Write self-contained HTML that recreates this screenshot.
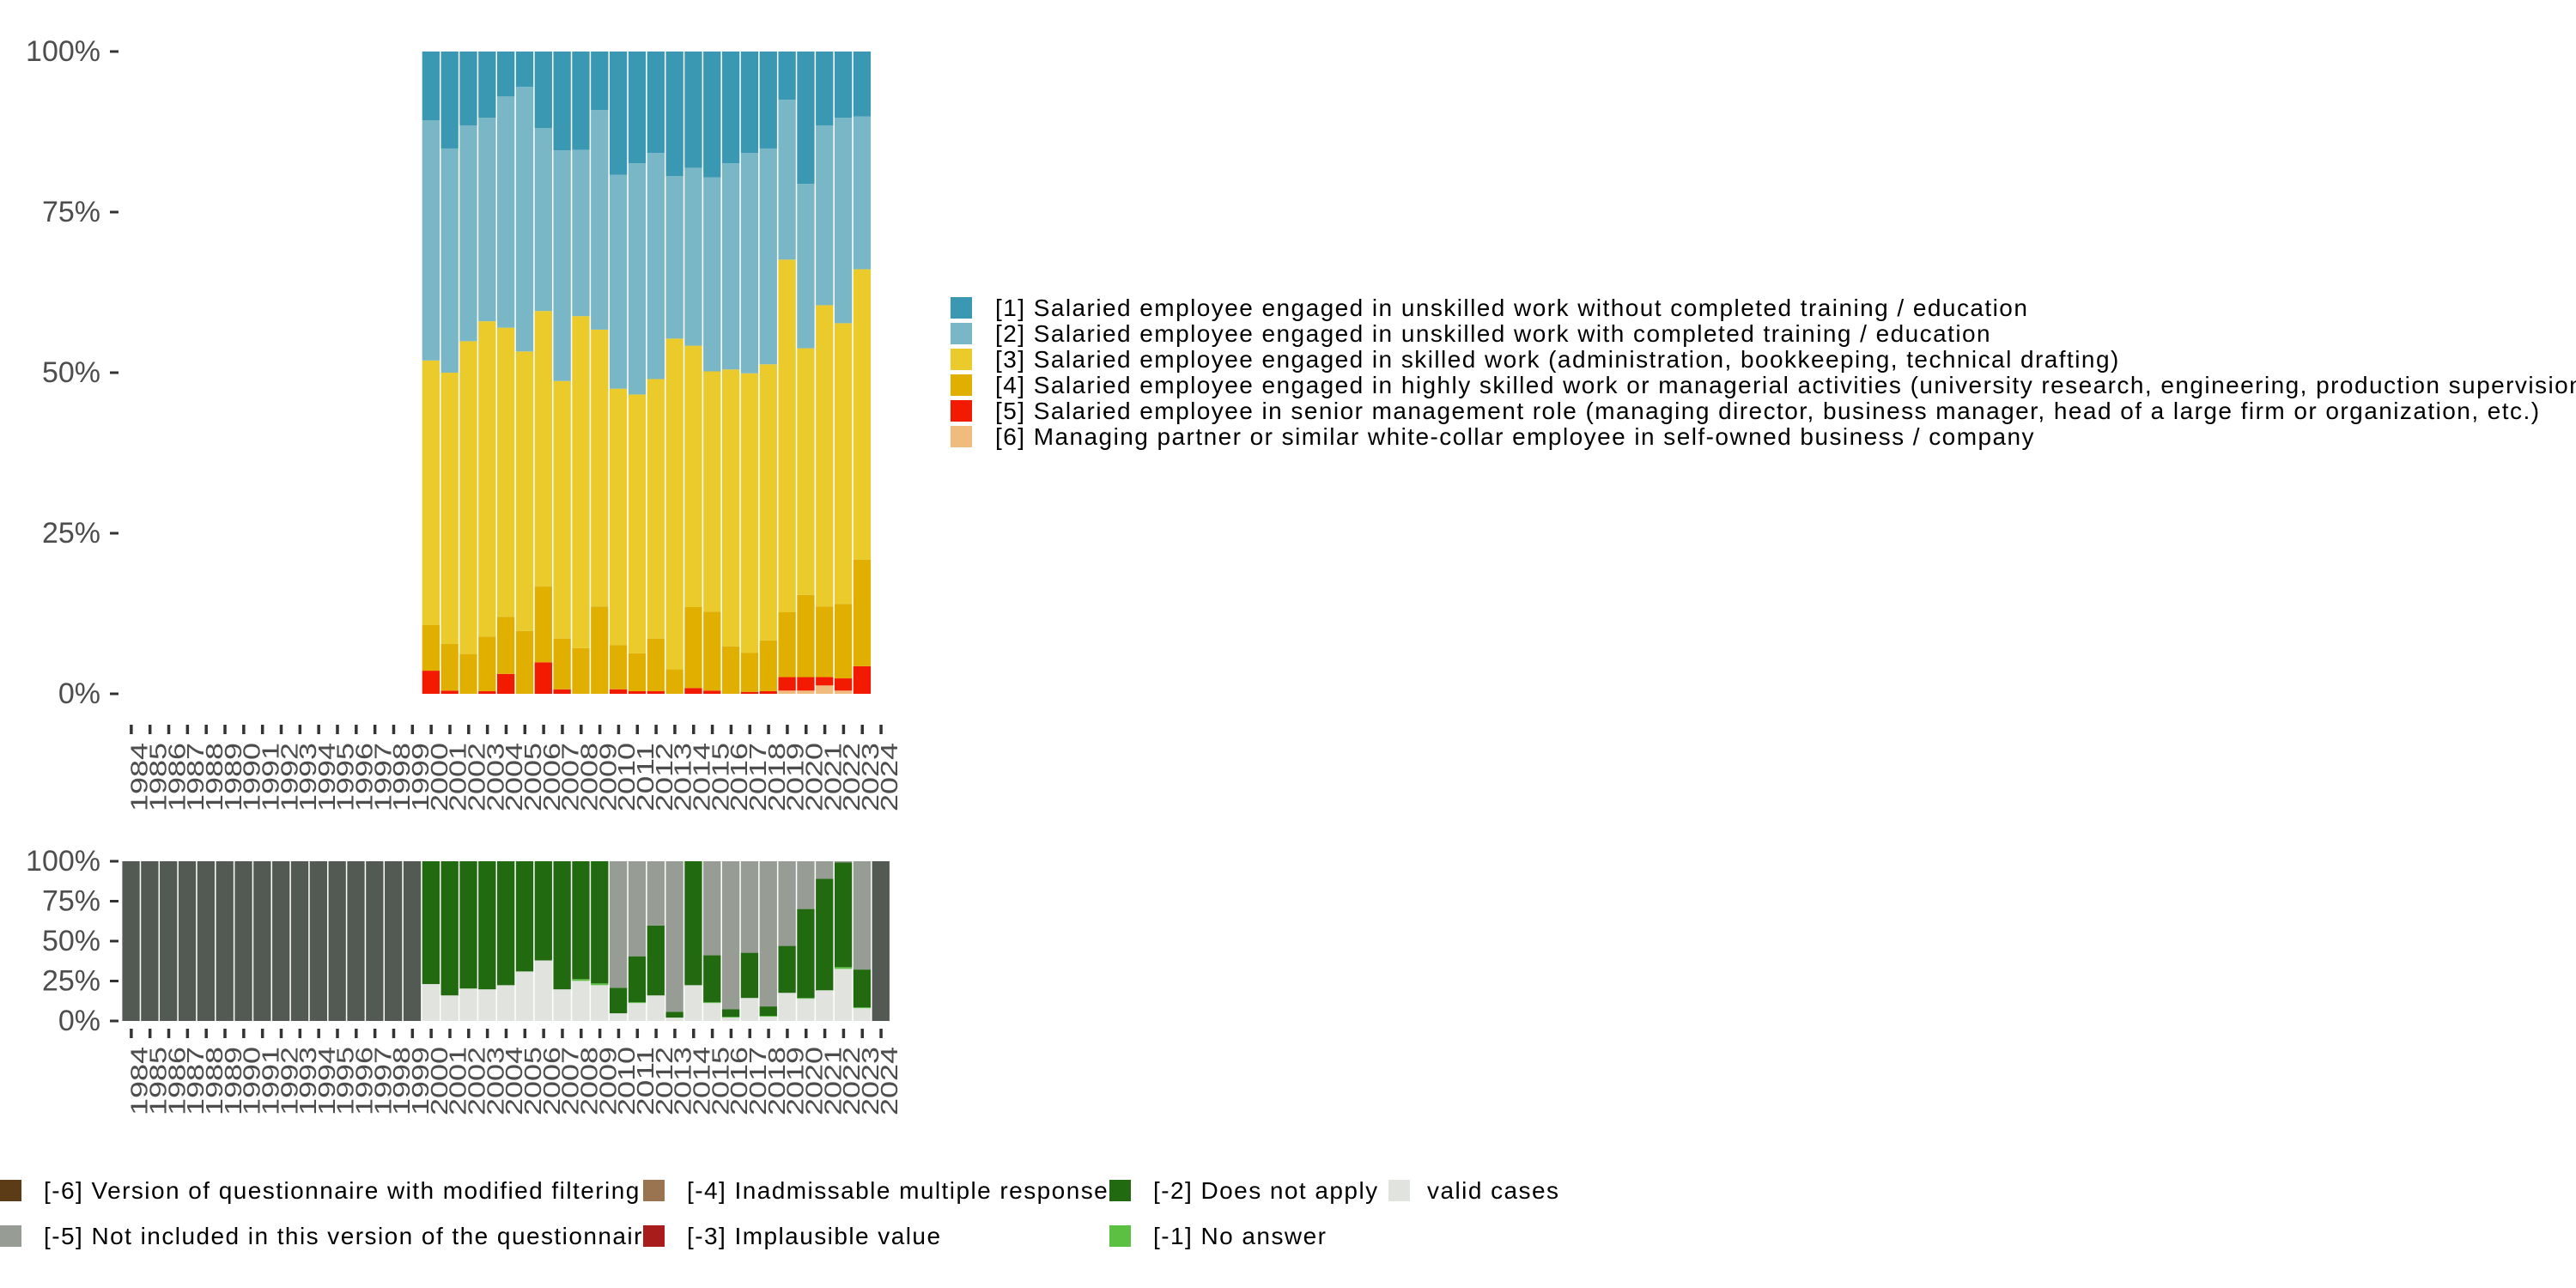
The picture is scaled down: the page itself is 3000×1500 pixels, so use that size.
<!DOCTYPE html>
<html><head><meta charset="utf-8"><style>
html,body{margin:0;padding:0;background:#fff;}
svg{display:block;font-family:"Liberation Sans",sans-serif;}
.lg{letter-spacing:1.45px;}
</style></head><body>
<svg id="chart" width="3000" height="1500" viewBox="0 0 3000 1500" xmlns="http://www.w3.org/2000/svg">
<g id="top"></g>
<g id="bot"></g>
<g id="legTop"></g>
<g id="legBot"></g>
</svg>
<script>
const years = [];
for (let y = 1984; y <= 2024; y++) years.push(y);
const dataYears = [2000,2001,2002,2003,2004,2005,2006,2007,2008,2009,2010,2011,2012,2013,2014,2015,2016,2017,2018,2019,2020,2021,2022,2023];
const cat6 = [0,0,0,0,0,0,0,0,0,0,0,0,0,0,0,0,0,0,0,0.5,0.5,1.3,0.5,0];
const cat5 = [3.6,0.5,0,0.4,3.1,0,4.9,0.7,0,0,0.7,0.4,0.4,0,0.9,0.5,0,0.3,0.4,2.1,2.1,1.3,1.9,4.3];
const cat4 = [7.1,7.3,6.2,8.5,8.9,9.8,11.8,7.9,7.1,13.6,6.9,5.9,8.2,3.8,12.6,12.3,7.4,6.1,7.9,10.1,12.8,11.0,11.6,16.6];
const cat3 = [41.2,42.2,48.7,49.1,45.0,43.5,42.9,40.1,51.7,43.1,39.9,40.3,40.4,51.5,40.7,37.4,43.1,43.5,43.0,54.9,38.4,46.9,43.7,45.2];
const cat2 = [37.4,34.9,33.6,31.7,36.0,41.2,28.5,35.9,25.9,34.2,33.3,36.0,35.2,25.3,27.7,30.2,32.1,34.3,33.6,24.9,25.6,28.0,32.0,23.8];
const cat1 = [10.7,15.1,11.5,10.3,7.0,5.5,11.9,15.4,15.3,9.1,19.2,17.4,15.8,19.4,18.1,19.6,17.4,15.8,15.1,7.5,20.6,11.5,10.3,10.1];
const validCases = [23.1,16.0,20.3,19.8,22.4,31.0,37.9,19.8,25.1,22.4,4.8,11.2,16.0,2.1,22.4,11.2,2.1,14.4,2.7,17.6,13.9,19.2,32.6,8.0];
const noAnswer = [0,0,0,0,0,0,0,0,1.1,1.1,0,0.5,0,0,0,0.5,0.5,0,0.5,0,0.5,0,1.1,0.5];
const doesNotApply = [76.9,84.0,79.7,80.2,77.6,69.0,62.1,80.2,73.8,76.5,16.0,28.8,43.8,3.7,77.6,29.4,4.8,28.3,5.9,29.4,55.7,69.9,65.5,23.7];
const notIncluded = [0,0,0,0,0,0,0,0,0,0,79.2,59.5,40.2,94.2,0,58.9,92.6,57.3,90.9,53.0,29.9,10.9,0.8,67.8];
const yTicks = [0,25,50,75,100];
const yTickLabels = ["0%","25%","50%","75%","100%"];
const topNames = ["[1] Salaried employee engaged in unskilled work without completed training / education",
"[2] Salaried employee engaged in unskilled work with completed training / education",
"[3] Salaried employee engaged in skilled work (administration, bookkeeping, technical drafting)",
"[4] Salaried employee engaged in highly skilled work or managerial activities (university research, engineering, production supervision, etc.)",
"[5] Salaried employee in senior management role (managing director, business manager, head of a large firm or organization, etc.)",
"[6] Managing partner or similar white-collar employee in self-owned business / company"];

const NS = "http://www.w3.org/2000/svg";
function mk(tag, attrs, parent){const e=document.createElementNS(NS,tag);for(const k in attrs)e.setAttribute(k,attrs[k]);parent.appendChild(e);return e;}
const X0 = 141.7, BAND = 21.83, BW = 20.3;
function xBand(year){return X0 + years.indexOf(year)*BAND;}
function yTop(p){return 808 - p/100*748;}
function yBot(p){return 1189 - p/100*186;}

const topCols = ["#3a98b2","#79b6c6","#eacb2b","#e0af00","#f21a00","#f0bc7e"];
const topSeries = [cat6,cat5,cat4,cat3,cat2,cat1];
const topColsStack = ["#f0bc7e","#f21a00","#e0af00","#eacb2b","#79b6c6","#3a98b2"];
const gTop = document.getElementById('top');
dataYears.forEach((yr,i)=>{
  let cum = 0;
  topSeries.forEach((s,k)=>{
    const v = s[i]; if (v<=0) return;
    const y1 = yTop(cum+v), y0 = yTop(cum);
    const r = mk('rect',{x:xBand(yr)+0.7,y:y1,width:BW,height:Math.max(0,y0-y1),fill:topColsStack[k]},gTop);
    
    
    cum += v;
  });
});
function axes(g, yf, tickY0, labY, prefix){
  yTicks.forEach((t,i)=>{
    const tk = mk('rect',{x:128,y:yf(t)-1.5,width:10,height:3,fill:"#333"},g);
    
    
    const tx = mk('text',{x:117,y:yf(t),'text-anchor':'end','dominant-baseline':'central','font-size':34,fill:"#4d4d4d"},g);
    tx.textContent = yTickLabels[i];
    
    
  });
  years.forEach(yr=>{
    const cx = xBand(yr)+BAND/2;
    const tk = mk('rect',{x:cx-1.5,y:tickY0,width:3.5,height:11,fill:"#333"},g);
    
    
    const tx = mk('text',{x:cx+19,y:labY,'text-anchor':'end','font-size':28,fill:"#4d4d4d",transform:'rotate(-90 '+(cx+19)+' '+labY+')',textLength:80,lengthAdjust:'spacingAndGlyphs'},g);
    tx.textContent = String(yr);
    
    
  });
}
axes(gTop, yTop, 844, 865, 'top');

const gBot = document.getElementById('bot');
const botSeries = [validCases,noAnswer,doesNotApply,notIncluded];
const botCols = ["#e0e3de","#5cc043","#226a10","#979c95"];
years.forEach(yr=>{
  const i = dataYears.indexOf(yr);
  if (i<0){
    const r = mk('rect',{x:xBand(yr)+0.7,y:yBot(100),width:BW,height:yBot(0)-yBot(100),fill:"#535953"},gBot);
    
    
    return;
  }
  let cum = 0;
  botSeries.forEach((s,k)=>{
    const v = s[i]; if (v<=0) return;
    const y1 = yBot(Math.min(100,cum+v)), y0 = yBot(cum);
    const r = mk('rect',{x:xBand(yr)+0.7,y:y1,width:BW,height:Math.max(0,y0-y1),fill:botCols[k]},gBot);
    
    
    cum += v;
  });
});
axes(gBot, yBot, 1198, 1219, 'bottom');

const gL = document.getElementById('legTop');
topNames.forEach((n,i)=>{
  const y = 346 + i*30;
  const r = mk('rect',{x:1107,y:y,width:25,height:25,fill:topCols[i]},gL);
  
  
  const t = mk('text',{x:1159,y:y+12.5,'dominant-baseline':'central','font-size':28,fill:"#000",'class':'lg'},gL);
  t.textContent = n;
  
  
});
const botLeg = [
 ["[-6] Version of questionnaire with modified filtering","#5c3b17",0,1374],
 ["[-5] Not included in this version of the questionnaire","#979c95",0,1427],
 ["[-4] Inadmissable multiple response","#9a7350",749,1374],
 ["[-3] Implausible value","#a81c1c",749,1427],
 ["[-2] Does not apply","#226a10",1292,1374],
 ["[-1] No answer","#5cc043",1292,1427],
 ["valid cases","#e0e3de",1617,1374]];
const gB = document.getElementById('legBot');
botLeg.forEach((d,i)=>{
  const r = mk('rect',{x:d[2],y:d[3],width:25,height:25,fill:d[1]},gB);
  
  
  const t = mk('text',{x:d[2]+(i===6?45:51),y:d[3]+12.5,'dominant-baseline':'central','font-size':28,fill:"#000",'class':'lg'},gB);
  t.textContent = d[0];
  
  
});
</script>
</body></html>
